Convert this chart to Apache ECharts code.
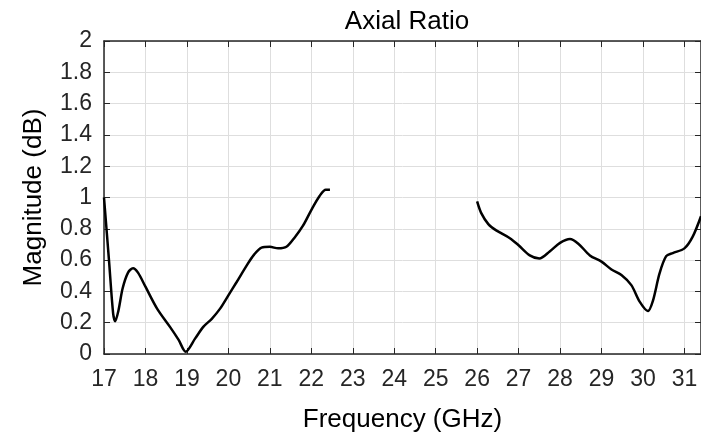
<!DOCTYPE html>
<html>
<head>
<meta charset="utf-8">
<script src="https://cdn.jsdelivr.net/npm/echarts@6/dist/echarts.min.js"></script>
<style>html,body{margin:0;padding:0;background:#fff;}#c{width:701px;height:438px;}</style>
</head>
<body>
<div id="c"></div>
<script>
const titleText = 'Axial Ratio';
const xName = 'Frequency (GHz)';
const yName = 'Magnitude (dB)';
const freqA = [17.0, 17.12, 17.22, 17.27, 17.35, 17.45, 17.58, 17.7, 17.82, 18.0, 18.28, 18.6, 18.8, 18.97, 19.2, 19.4, 19.6, 19.8, 20.0, 20.2, 20.44, 20.62, 20.8, 21.0, 21.2, 21.4, 21.6, 21.8, 22.0, 22.2, 22.35, 22.45];
const magA  = [1.0, 0.6, 0.26, 0.21, 0.28, 0.42, 0.52, 0.548, 0.52, 0.43, 0.29, 0.17, 0.09, 0.015, 0.1, 0.175, 0.225, 0.29, 0.375, 0.46, 0.565, 0.635, 0.68, 0.685, 0.675, 0.685, 0.745, 0.82, 0.92, 1.01, 1.05, 1.05];
const freqB = [26.0, 26.1, 26.27, 26.46, 26.79, 27.0, 27.27, 27.5, 27.75, 28.0, 28.24, 28.44, 28.72, 29.0, 29.24, 29.48, 29.72, 29.92, 30.12, 30.24, 30.4, 30.56, 30.72, 31.0, 31.2, 31.4];
const magB  = [0.975, 0.9, 0.83, 0.79, 0.74, 0.695, 0.63, 0.61, 0.655, 0.71, 0.735, 0.705, 0.63, 0.59, 0.54, 0.505, 0.44, 0.335, 0.275, 0.34, 0.515, 0.625, 0.645, 0.675, 0.75, 0.88];

const font = 'Liberation Sans, Arial, Helvetica, sans-serif';
const axisColor = '#262626';
const gridColor = '#dedede';
const pairs = (xs, ys) => xs.map((x, i) => [x, ys[i]]);

const chart = echarts.init(document.getElementById('c'), null, {renderer: 'canvas'});
chart.setOption({
  animation: false,
  backgroundColor: '#fff',
  title: {
    text: titleText, left: 402, top: 4, textAlign: 'center',
    textStyle: {fontFamily: font, fontSize: 26, fontWeight: 'normal', color: '#000'}
  },
  grid: {left: 104, top: 41, right: 0, bottom: 84, containLabel: false},
  xAxis: [{
    type: 'value', min: 17, max: 31.4, interval: 1,
    name: xName, nameLocation: 'middle', nameGap: 53,
    nameTextStyle: {fontFamily: font, fontSize: 26, color: '#000'},
    axisLine: {show: true, onZero: false, lineStyle: {color: axisColor, width: 1.5}},
    axisTick: {show: true, inside: true, length: 6, lineStyle: {color: axisColor}},
    axisLabel: {fontFamily: font, fontSize: 23, color: '#262626', margin: 14, showMaxLabel: false,
      formatter: v => (Math.abs(v - Math.round(v)) < 1e-6 ? String(Math.round(v)) : '')},
    splitLine: {show: true, lineStyle: {color: gridColor, width: 1}}
  }, {
    type: 'value', position: 'top', min: 17, max: 31.4, interval: 1,
    axisLine: {show: true, onZero: false, lineStyle: {color: axisColor, width: 1.5}},
    axisTick: {show: true, inside: true, length: 6, lineStyle: {color: axisColor}},
    axisLabel: {show: false}, splitLine: {show: false}
  }],
  yAxis: [{
    type: 'value', min: 0, max: 2, interval: 0.2,
    name: yName, nameLocation: 'middle', nameGap: 57, nameRotate: 90,
    nameTextStyle: {fontFamily: font, fontSize: 26, color: '#000'},
    axisLine: {show: true, onZero: false, lineStyle: {color: axisColor, width: 1.5}},
    axisTick: {show: true, inside: true, length: 6, lineStyle: {color: axisColor}},
    axisLabel: {fontFamily: font, fontSize: 23, color: '#262626', margin: 12},
    splitLine: {show: true, lineStyle: {color: gridColor, width: 1}}
  }, {
    type: 'value', position: 'right', min: 0, max: 2, interval: 0.2,
    axisLine: {show: true, onZero: false, lineStyle: {color: axisColor, width: 1.5}},
    axisTick: {show: true, inside: true, length: 6, lineStyle: {color: axisColor}},
    axisLabel: {show: false}, splitLine: {show: false}
  }],
  series: [{
    type: 'line', data: pairs(freqA, magA), smooth: 0.3, symbol: 'none',
    lineStyle: {color: '#000', width: 2.5}, clip: true
  }, {
    type: 'line', data: pairs(freqB, magB), smooth: 0.3, symbol: 'none',
    lineStyle: {color: '#000', width: 2.5}, clip: true
  }]
});
</script>
</body>
</html>
